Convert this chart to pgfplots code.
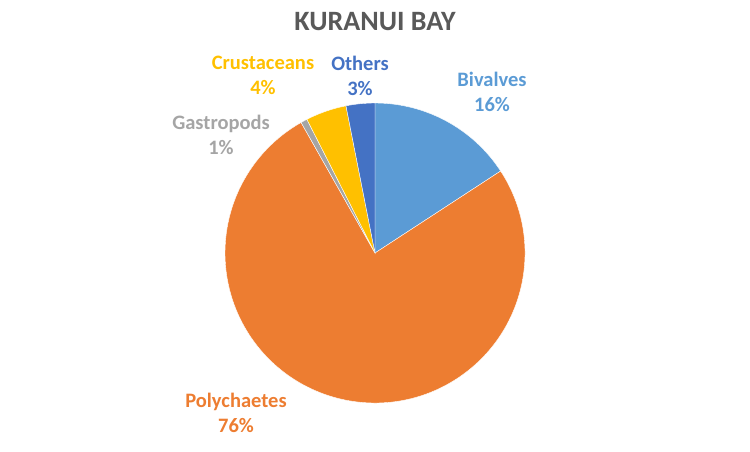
\documentclass[border=0pt]{standalone}
\usepackage{pgfplots}
\usepackage{pgfplotstable}
\pgfplotsset{compat=1.18}
\usepackage{fontspec}
\setmainfont{Carlito}

\definecolor{bival}{HTML}{5B9BD5}
\definecolor{poly}{HTML}{ED7D31}
\definecolor{gast}{HTML}{A5A5A5}
\definecolor{crus}{HTML}{FFC000}
\definecolor{oth}{HTML}{4472C4}
\definecolor{titlegray}{HTML}{595959}

% share in percent, slice colour, label centre in picture pixels (y from top)
\pgfplotstableread{
name        value col   lx  ly    pct
Bivalves    15.8  bival 492 92    16
Polychaetes 76.0  poly  236 413   76
Gastropods  0.7   gast  221 135   1
Crustaceans 4.4   crus  263 75.5  4
Others      3.1   oth   360 75.5  3
}\piedata

\begin{document}
\begin{tikzpicture}
  \begin{axis}[
      width=750pt, height=451pt, scale only axis,
      xmin=0, xmax=750, ymin=0, ymax=451,
      hide axis, clip=false,
    ]
    \path (axis cs:0,0) rectangle (axis cs:750,451);
    \def\cur{90}
    \pgfplotsforeachungrouped \i in {0,...,4}{%
      \pgfplotstablegetelem{\i}{value}\of\piedata \let\v\pgfplotsretval
      \pgfmathsetmacro{\endang}{\cur-3.6*\v}
      \pgfplotstablegetelem{\i}{col}\of\piedata \let\c\pgfplotsretval
      \edef\doslice{\noexpand\fill[fill=\c, draw=white, line width=0.4pt]
        (axis cs:375,198) -- ++(\cur:150pt)
        arc[start angle=\cur, end angle=\endang, radius=150pt] -- cycle;}
      \doslice
      \global\let\cur\endang
    }
    \pgfplotsforeachungrouped \i in {0,...,4}{%
      \pgfplotstablegetelem{\i}{name}\of\piedata \let\n\pgfplotsretval
      \pgfplotstablegetelem{\i}{col}\of\piedata \let\c\pgfplotsretval
      \pgfplotstablegetelem{\i}{lx}\of\piedata \let\lx\pgfplotsretval
      \pgfplotstablegetelem{\i}{ly}\of\piedata \pgfmathsetmacro{\ly}{451-\pgfplotsretval}
      \pgfplotstablegetelem{\i}{pct}\of\piedata \let\p\pgfplotsretval
      \edef\dolabel{\noexpand\node[text=\c, align=center,
        font=\noexpand\bfseries\noexpand\fontsize{20.5}{25}\noexpand\selectfont]
        at (axis cs:\lx,\ly) {\n\noexpand\\\p\noexpand\%};}
      \dolabel
    }
    \node[text=titlegray, font=\bfseries\fontsize{28}{33}\selectfont]
      at (axis cs:375,429) {KURANUI BAY};
  \end{axis}
\end{tikzpicture}
\end{document}
